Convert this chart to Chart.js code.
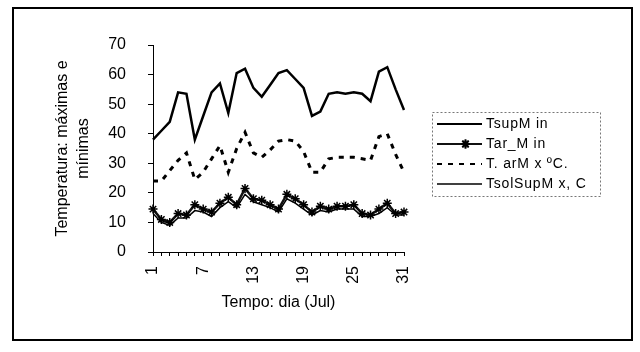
<!DOCTYPE html>
<html>
<head>
<meta charset="utf-8">
<script src="https://cdn.jsdelivr.net/npm/chart.js@4.4.0/dist/chart.umd.min.js"></script>
<style>
  html, body { margin: 0; padding: 0; background: #fff; }
  #wrap { width: 640px; height: 352px; position: relative; }
</style>
</head>
<body>
<div id="wrap"><canvas id="c" width="640" height="352"></canvas></div>
<script>
// Days of July
const days = ['1','2','3','4','5','6','7','8','9','10','11','12','13','14','15','16',
              '17','18','19','20','21','22','23','24','25','26','27','28','29','30','31'];
// Days that carry a tick label
const labelledDays = ['1','7','13','19','25','31'];

// Series names as shown in the legend
const seriesNames = ['TsupM in', 'Tar_M in', 'T. arM x ºC.', 'TsolSupM x, C'];

// Daily temperatures (ºC)
const tSupMin = [38, 41, 44, 54, 53.5, 38, 46, 54, 57, 47, 60.5, 62, 55.5, 52.5, 56.5, 60.5,
                 61.5, 58.5, 55.5, 46, 47.5, 53.5, 54, 53.5, 54, 53.5, 51, 61, 62.5, 55, 48];
const tArMin = [14.5, 11, 10, 13, 12.5, 16, 14.5, 13.5, 16.5, 18.5, 16, 21.5, 18, 17.5, 16, 14.5,
                19.5, 18, 16, 13.5, 15.5, 14.5, 15.5, 15.5, 16, 13, 12.5, 14.5, 16.5, 13, 13.5];
const tArMax = [24, 24, 27.5, 31, 33.5, 24.5, 27, 31.5, 36, 27, 35, 40.5, 33.5, 32, 34.5, 37.5,
                38, 37.5, 34, 27, 27, 31.5, 32, 32, 32, 31.5, 31, 39, 40, 33, 27];
const tSolSupMax = [13, 10, 9, 11.5, 11.5, 14, 13.5, 12, 15, 17, 15, 19.5, 17, 16, 15, 13.5,
                    18, 16.5, 14.5, 12.5, 14, 13.5, 14.5, 14.5, 14.5, 12, 12, 13, 15, 12.5, 12.5];

// Value axis range
const yMin = 0, yMax = 70, yStep = 10;

const FONT = "'Liberation Sans', Arial, sans-serif";

// Outer frame and the boxed legend, drawn after the chart
const framePlugin = {
  id: 'frameAndLegend',
  afterDraw(chart) {
    const ctx = chart.ctx;
    ctx.save();
    // outer frame
    ctx.strokeStyle = '#000';
    ctx.lineWidth = 2;
    ctx.strokeRect(13, 8, 619, 332);

    // legend box
    const bx = 432, by = 112, bw = 168, bh = 84;
    ctx.lineWidth = 1;
    ctx.strokeStyle = '#777';
    ctx.setLineDash([2, 2]);
    ctx.strokeRect(bx + 0.5, by + 0.5, bw, bh);
    ctx.setLineDash([]);

    const rowY0 = by + 12, rowGap = 20;
    const sx0 = bx + 5, sx1 = bx + 50;
    ctx.font = '14px ' + FONT;
    ctx.letterSpacing = '0.8px';
    ctx.textBaseline = 'middle';
    ctx.fillStyle = '#000';
    chart.data.datasets.forEach((ds, i) => {
      const y = rowY0 + i * rowGap;
      ctx.strokeStyle = ds.borderColor;
      ctx.lineWidth = Math.min(ds.borderWidth, 2);
      ctx.setLineDash(ds.borderDash || []);
      ctx.beginPath();
      ctx.moveTo(sx0, y);
      ctx.lineTo(sx1, y);
      ctx.stroke();
      ctx.setLineDash([]);
      if (ds.pointStyle === 'star') {
        Chart.helpers.drawPoint(ctx, {
          pointStyle: 'star', radius: ds.pointRadius, rotation: 0,
          borderWidth: ds.pointBorderWidth
        }, (sx0 + sx1) / 2 + 6, y);
        ctx.strokeStyle = '#000';
        ctx.lineWidth = ds.pointBorderWidth;
        ctx.stroke();
      }
      ctx.fillText(ds.label, sx1 + 4, y + 0.5);
    });
    ctx.restore();
  }
};

new Chart(document.getElementById('c'), {
  type: 'line',
  data: {
    labels: days,
    datasets: [
      {
        label: seriesNames[0], data: tSupMin,
        borderColor: '#000', borderWidth: 2.5, pointRadius: 0, tension: 0
      },
      {
        label: seriesNames[1], data: tArMin,
        borderColor: '#111', borderWidth: 2.5, tension: 0,
        pointStyle: 'star', pointRadius: 4.5, pointBorderWidth: 1.5,
        pointBorderColor: '#000', pointBackgroundColor: '#000'
      },
      {
        label: seriesNames[2], data: tArMax,
        borderColor: '#000', borderWidth: 3, borderDash: [5, 6], pointRadius: 0, tension: 0
      },
      {
        label: seriesNames[3], data: tSolSupMax,
        borderColor: '#000', borderWidth: 1.5, pointRadius: 0, tension: 0
      }
    ]
  },
  options: {
    responsive: false,
    animation: false,
    devicePixelRatio: 1,
    layout: { padding: { top: 45, right: 236, bottom: 0, left: 0 } },
    plugins: {
      legend: { display: false },
      tooltip: { enabled: false }
    },
    scales: {
      x: {
        type: 'category',
        offset: false,
        afterFit(scale) { scale.height = 100; },
        grid: { drawOnChartArea: false, drawTicks: true, tickLength: 4, color: '#000' },
        border: { display: true, color: '#000', width: 1 },
        ticks: {
          autoSkip: false, minRotation: 90, maxRotation: 90, padding: 10,
          color: '#000', font: { family: FONT, size: 16 },
          callback(value) {
            const lbl = this.getLabelForValue(value);
            return labelledDays.includes(lbl) ? lbl : '';
          }
        },
        title: {
          display: true, text: 'Tempo: dia (Jul)', color: '#000',
          font: { family: FONT, size: 16 }, padding: { top: 0, bottom: 40 }
        }
      },
      y: {
        min: yMin, max: yMax,
        afterFit(scale) { scale.width = 153; },
        grid: { drawOnChartArea: false, drawTicks: true, tickLength: 5, color: '#000' },
        border: { display: true, color: '#000', width: 1 },
        ticks: {
          stepSize: yStep, padding: 22, color: '#000',
          font: { family: FONT, size: 16 }
        },
        title: {
          display: true, text: ['Temperatura: máximas e', 'mínimas'], color: '#000',
          font: { family: FONT, size: 16, lineHeight: 1.3 }, padding: { top: 52, bottom: 0 }
        }
      }
    }
  },
  plugins: [framePlugin]
});
</script>
</body>
</html>
